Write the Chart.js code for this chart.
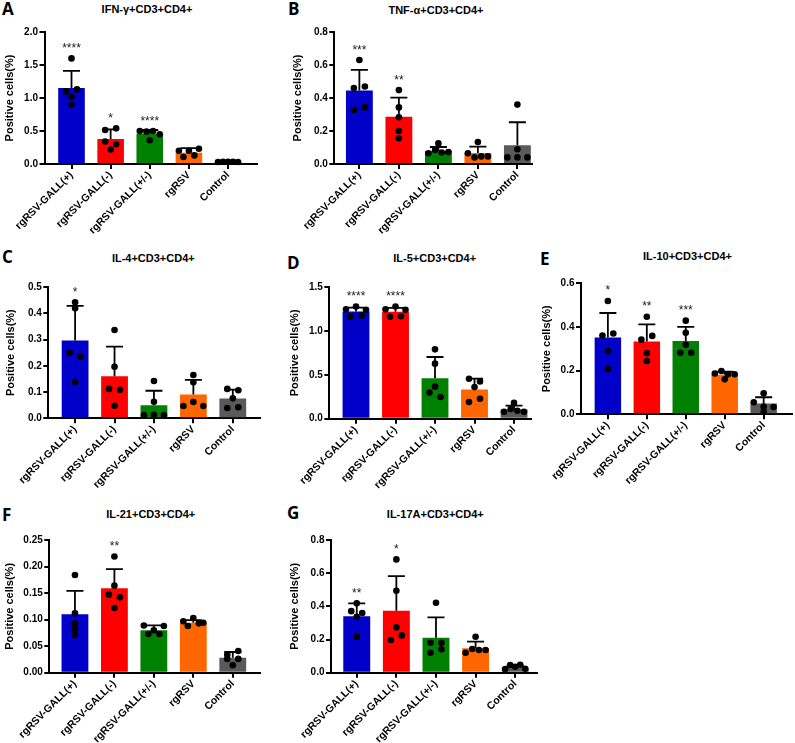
<!DOCTYPE html>
<html><head><meta charset="utf-8">
<script src="https://cdn.jsdelivr.net/npm/chart.js@4.4.1/dist/chart.umd.min.js"></script>
<style>
html,body{margin:0;padding:0;background:#fff;width:795px;height:743px;overflow:hidden;position:relative;font-family:"Liberation Sans",Arial,sans-serif;}
.box{position:absolute;}
.letter{position:absolute;font-family:"Open Sans",sans-serif;font-weight:700;font-size:17px;line-height:17px;color:#000;}
.title{position:absolute;font-family:"Liberation Sans",Arial,sans-serif;font-weight:700;font-size:11px;line-height:11px;color:#000;white-space:nowrap;transform:translateX(-50%);}
</style></head><body>
<script>
const groups = ["rgRSV-GALL(+)", "rgRSV-GALL(-)", "rgRSV-GALL(+/-)", "rgRSV", "Control"];

// A: IFN-γ
const ifngMean = [1.15, 0.38, 0.46, 0.17, 0.033];
const ifngSD = [0.26, 0.145, 0.055, 0.07, 0.004];
const ifngDots = [[1.60,1.10,1.13,1.02,0.90],[0.515,0.54,0.34,0.30,0.22],[0.50,0.49,0.50,0.45,0.36],[0.20,0.20,0.23,0.105,0.13],[0.03,0.035,0.035,0.035,0.03]];
const ifngStars = ["****","*","****","",""];
const ifngTicks = [0,0.5,1.0,1.5,2.0];

// B: TNF-α
const tnfaMean = [0.446, 0.286, 0.079, 0.066, 0.113];
const tnfaSD = [0.124, 0.116, 0.024, 0.039, 0.14];
const tnfaDots = [[0.63,0.46,0.47,0.327,0.343],[0.448,0.343,0.283,0.20,0.156],[0.125,0.065,0.085,0.07,0.072],[0.133,0.065,0.04,0.046,0.046],[0.36,0.089,0.04,0.04,0.04]];
const tnfaStars = ["***","**","","",""];
const tnfaTicks = [0,0.2,0.4,0.6,0.8];

// C: IL-4
const il4Mean = [0.296, 0.16, 0.05, 0.091, 0.075];
const il4SD = [0.132, 0.113, 0.055, 0.055, 0.034];
const il4Dots = [[0.442,0.419,0.249,0.235,0.138],[0.336,0.196,0.112,0.109,0.048],[0.142,0.063,0.012,0.013,0.012],[0.165,0.137,0.047,0.062,0.047],[0.112,0.107,0.076,0.039,0.042]];
const il4Stars = ["*","","","",""];
const il4Ticks = [0,0.1,0.2,0.3,0.4,0.5];

// D: IL-5
const il5Mean = [1.22, 1.218, 0.46, 0.333, 0.105];
const il5SD = [0.046, 0.044, 0.243, 0.123, 0.045];
const il5Dots = [[1.247,1.277,1.24,1.163,1.175],[1.247,1.277,1.24,1.16,1.167],[0.79,0.627,0.365,0.297,0.247],[0.455,0.424,0.36,0.19,0.227],[0.18,0.08,0.11,0.09,0.08]];
const il5Stars = ["****","****","","",""];
const il5Ticks = [0,0.5,1.0,1.5];

// E: IL-10
const il10Mean = [0.352, 0.333, 0.336, 0.181, 0.049];
const il10SD = [0.112, 0.079, 0.064, 0.014, 0.029];
const il10Dots = [[0.519,0.361,0.37,0.29,0.208],[0.447,0.342,0.359,0.28,0.244],[0.429,0.373,0.318,0.282,0.282],[0.187,0.198,0.183,0.183,0.16],[0.096,0.055,0.035,0.033,0.012]];
const il10Stars = ["*","**","***","",""];
const il10Ticks = [0,0.2,0.4,0.6];

// F: IL-21
const il21Mean = [0.11, 0.159, 0.08, 0.094, 0.028];
const il21SD = [0.044, 0.036, 0.009, 0.005, 0.011];
const il21Dots = [[0.184,0.112,0.093,0.083,0.071],[0.219,0.164,0.147,0.142,0.122],[0.089,0.08,0.088,0.073,0.073],[0.097,0.103,0.094,0.088,0.093],[0.034,0.041,0.026,0.026,0.014]];
const il21Stars = ["","**","","",""];
const il21Ticks = [0,0.05,0.10,0.15,0.20,0.25];

// G: IL-17A
const il17aMean = [0.341, 0.374, 0.211, 0.147, 0.03];
const il17aSD = [0.077, 0.208, 0.122, 0.04, 0.012];
const il17aDots = [[0.418,0.371,0.36,0.337,0.217],[0.683,0.494,0.273,0.197,0.225],[0.422,0.181,0.181,0.12,0.141],[0.217,0.12,0.143,0.137,0.137],[0.022,0.046,0.036,0.048,0.024]];
const il17aStars = ["**","*","","",""];
const il17aTicks = [0,0.2,0.4,0.6,0.8];

// styles / layout
const barColors = ["#0000c8", "#ff0000", "#008000", "#ff6600", "#5a5a5a"];
const panels = [
  {letter:"A", title:"IFN-γ+CD3+CD4+", mean:ifngMean, sd:ifngSD, dots:ifngDots, stars:ifngStars, ticks:ifngTicks, dec:1,
   L:44.5, R:257, T:32, B:164, xmin:-0.69, xmax:4.74, tx:147, ty:9.5, lx:2, ly:2.7, ytx:10},
  {letter:"B", title:"TNF-α+CD3+CD4+", mean:tnfaMean, sd:tnfaSD, dots:tnfaDots, stars:tnfaStars, ticks:tnfaTicks, dec:1,
   L:334.3, R:532, T:32, B:164, xmin:-0.635, xmax:4.37, tx:436, ty:10.3, lx:288, ly:3.3, ytx:297.5},
  {letter:"C", title:"IL-4+CD3+CD4+", mean:il4Mean, sd:il4SD, dots:il4Dots, stars:il4Stars, ticks:il4Ticks, dec:1,
   L:48.3, R:260, T:287, B:418.3, xmin:-0.68, xmax:4.69, tx:153.3, ty:258.3, lx:2, ly:251, ytx:11.3},
  {letter:"D", title:"IL-5+CD3+CD4+", mean:il5Mean, sd:il5SD, dots:il5Dots, stars:il5Stars, ticks:il5Ticks, dec:1,
   L:329.3, R:531, T:287, B:418.7, xmin:-0.676, xmax:4.43, tx:434.7, ty:258.3, lx:287, ly:256.7, ytx:295},
  {letter:"E", title:"IL-10+CD3+CD4+", mean:il10Mean, sd:il10SD, dots:il10Dots, stars:il10Stars, ticks:il10Ticks, dec:1,
   L:581, R:794, T:283.3, B:414.3, xmin:-0.69, xmax:4.72, tx:687.5, ty:256.2, lx:540, ly:253, ytx:546.7},
  {letter:"F", title:"IL-21+CD3+CD4+", mean:il21Mean, sd:il21SD, dots:il21Dots, stars:il21Stars, ticks:il21Ticks, dec:2,
   L:49.3, R:260, T:540, B:672.7, xmin:-0.65, xmax:4.69, tx:150.8, ty:514.7, lx:2, ly:509, ytx:10},
  {letter:"G", title:"IL-17A+CD3+CD4+", mean:il17aMean, sd:il17aSD, dots:il17aDots, stars:il17aStars, ticks:il17aTicks, dec:1,
   L:331, R:537, T:540, B:672.7, xmin:-0.65, xmax:4.55, tx:435.3, ty:514.2, lx:287, ly:506.7, ytx:295}
];

const DOT_R = 3.3;
const FONT = '"Liberation Sans", Arial, sans-serif';

// horizontal spread of dots that share a row (Prism-like scatter arrangement)
function swarmOffsets(vals, pxPerUnit, pxPerCat) {
  const idx = vals.map((v, i) => i).sort((a, b) => vals[b] - vals[a]);
  const rows = [];
  let cur = null;
  for (const i of idx) {
    if (cur && (vals[cur.start] - vals[i]) * pxPerUnit < 5) cur.items.push(i);
    else { cur = {start: i, items: [i]}; rows.push(cur); }
  }
  const off = new Array(vals.length).fill(0);
  rows.forEach(r => {
    const items = r.items.slice().sort((a, b) => a - b);
    const n = items.length;
    if (n < 2) return;
    const s = n === 2 ? 11 : Math.min(11, 20 / (n - 1));
    items.forEach((i, k) => { off[i] = (k - (n - 1) / 2) * s / pxPerCat; });
  });
  return off;
}

panels.forEach(p => {
  const yMax = p.ticks[p.ticks.length - 1];
  const YW = 48;
  const cl = Math.floor(p.L - YW);
  const yW = p.L - cl;
  const ct = Math.floor(p.T - 10);
  const padT = p.T - ct;
  const padR = Math.min(4, 795 - p.R);
  const W = Math.ceil(p.R + padR - cl);
  const H = Math.ceil(padT + (p.B - p.T) + 75);
  const xH = H - padT - (p.B - p.T);
  const rightPad = W - yW - (p.R - p.L);
  const titlePad = Math.max(0, p.ytx - cl - 6.6);

  // letter and title
  const lt = document.createElement('div');
  lt.className = 'letter'; lt.textContent = p.letter;
  lt.style.left = p.lx + 'px'; lt.style.top = (p.ly - 3) + 'px';
  document.body.appendChild(lt);
  const tt = document.createElement('div');
  tt.className = 'title'; tt.textContent = p.title;
  tt.style.left = p.tx + 'px'; tt.style.top = (p.ty - 5.4) + 'px';
  document.body.appendChild(tt);

  const box = document.createElement('div');
  box.className = 'box';
  box.style.left = cl + 'px'; box.style.top = ct + 'px';
  box.style.width = W + 'px'; box.style.height = H + 'px';
  const cv = document.createElement('canvas');
  box.appendChild(cv);
  document.body.appendChild(box);

  const pxPerUnit = (p.B - p.T) / yMax;
  const pxPerCat = (p.R - p.L) / (p.xmax - p.xmin);
  const dotsData = [];
  p.dots.forEach((vals, g) => {
    const off = swarmOffsets(vals, pxPerUnit, pxPerCat);
    vals.forEach((v, k) => dotsData.push({x: g + off[k], y: v}));
  });

  const errPlugin = {
    id: 'err' + p.letter,
    afterDatasetDraw(chart, args) {
      if (args.index !== 0) return;
      const ctx = chart.ctx, xs = chart.scales.x, ys = chart.scales.y;
      ctx.save();
      ctx.strokeStyle = '#000'; ctx.lineWidth = 1.8; ctx.lineCap = 'butt';
      p.mean.forEach((m, i) => {
        const x = xs.getPixelForValue(i);
        const y0 = ys.getPixelForValue(m);
        const y1 = ys.getPixelForValue(m + p.sd[i]);
        ctx.beginPath();
        ctx.moveTo(x, y0); ctx.lineTo(x, y1);
        ctx.moveTo(x - 8.5, y1); ctx.lineTo(x + 8.5, y1);
        ctx.stroke();
      });
      ctx.restore();
    },
    afterDatasetsDraw(chart) {
      const ctx = chart.ctx, xs = chart.scales.x, ys = chart.scales.y;
      ctx.save();
      ctx.fillStyle = '#1a1a1a';
      ctx.font = '12px ' + FONT;
      ctx.textAlign = 'center'; ctx.textBaseline = 'alphabetic';
      p.stars.forEach((s, i) => {
        if (!s) return;
        const x = xs.getPixelForValue(i);
        const capTop = ys.getPixelForValue(p.mean[i] + p.sd[i]);
        const dotTop = ys.getPixelForValue(Math.max(...p.dots[i])) - DOT_R;
        const top = Math.min(capTop, dotTop);
        ctx.fillText(s, x, top - 9 + 5.8);
      });
      ctx.restore();
    }
  };

  new Chart(cv, {
    type: 'bar',
    data: {
      datasets: [
        {type: 'bar', data: p.mean.map((v, i) => ({x: i, y: v})), backgroundColor: barColors,
         borderWidth: 0, barPercentage: 0.68, categoryPercentage: 1, order: 1},
        {type: 'scatter', data: dotsData, backgroundColor: '#000', borderWidth: 0,
         pointRadius: DOT_R, pointHoverRadius: DOT_R, order: 0, clip: false}
      ]
    },
    options: {
      responsive: true, maintainAspectRatio: false, animation: false, events: [],
      layout: {padding: {top: padT, left: 0, right: rightPad, bottom: 0}},
      plugins: {legend: {display: false}, tooltip: {enabled: false}},
      scales: {
        x: {
          type: 'linear', min: p.xmin, max: p.xmax, offset: false,
          afterBuildTicks: s => { s.ticks = groups.map((g, i) => ({value: i})); },
          afterFit: s => { s.height = xH; },
          ticks: {callback: v => groups[v], autoSkip: false, maxRotation: 45, minRotation: 45,
                  font: {family: FONT, size: 10.5, weight: 'bold'}, color: '#000', padding: 0},
          grid: {offset: false, drawOnChartArea: false, drawTicks: true, tickLength: 5, color: '#000', lineWidth: 2},
          border: {display: true, color: '#000', width: 2}
        },
        y: {
          type: 'linear', min: 0, max: yMax,
          afterBuildTicks: s => { s.ticks = p.ticks.map(v => ({value: v})); },
          afterFit: s => { s.width = yW; },
          ticks: {callback: v => Number(v).toFixed(p.dec), font: {family: FONT, size: 10, weight: 'bold'}, color: '#000', padding: 1.5},
          grid: {drawOnChartArea: false, drawTicks: true, tickLength: 5, color: '#000', lineWidth: 2},
          border: {display: true, color: '#000', width: 2},
          title: {display: true, text: 'Positive cells(%)', color: '#000',
                  font: {family: FONT, size: 11, weight: 'bold'}, padding: {top: titlePad, bottom: 0}}
        }
      }
    },
    plugins: [errPlugin]
  });
});
</script>
</body></html>
